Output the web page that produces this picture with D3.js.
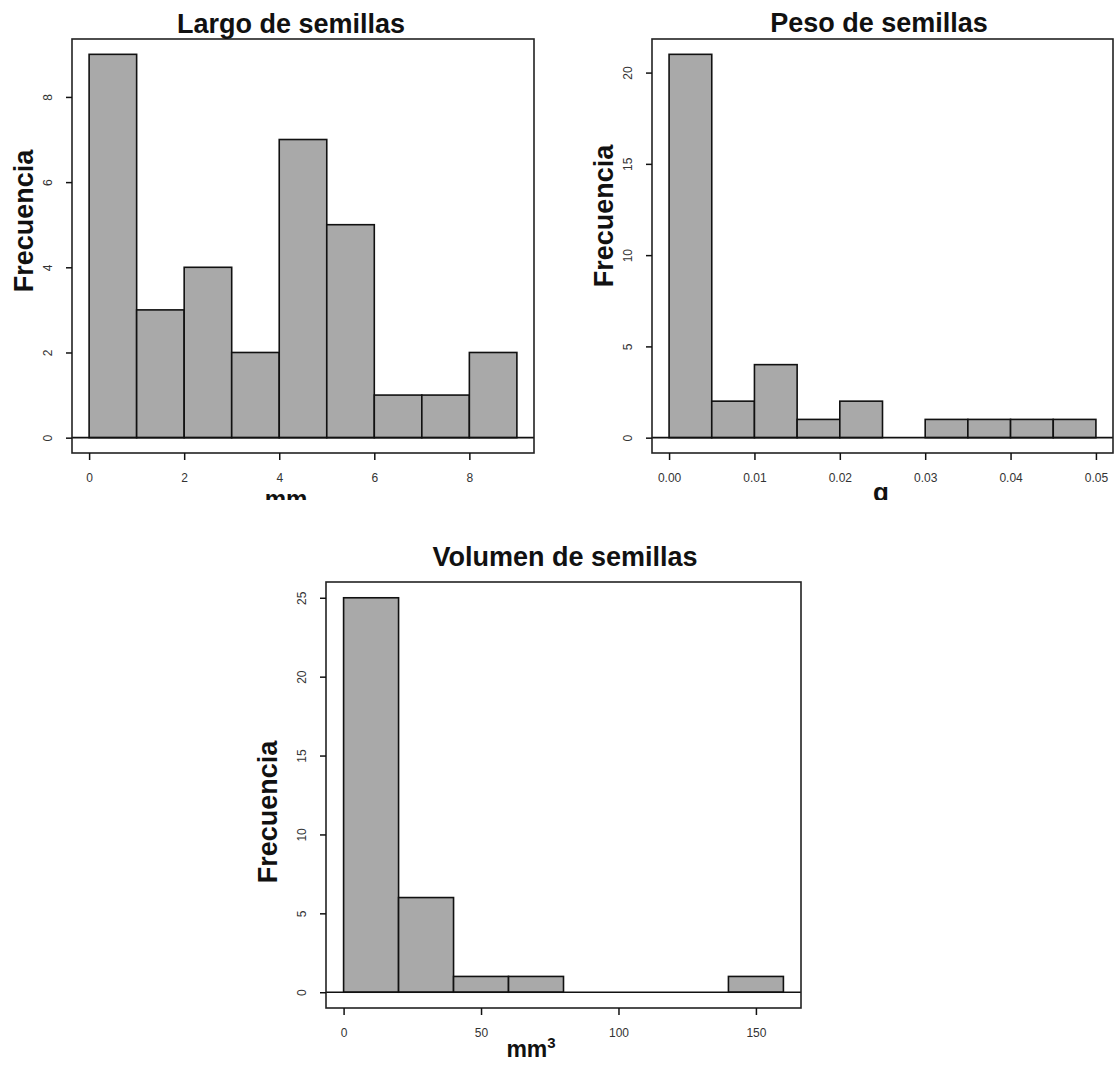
<!DOCTYPE html>
<html>
<head>
<meta charset="utf-8">
<script src="https://cdn.jsdelivr.net/npm/d3@7"></script>
<style>
  body { margin: 0; background: #fff; }
  text { font-family: 'Liberation Sans', Arial, sans-serif; }
</style>
</head>
<body>
<div id="chart"></div>
<script>
// histogram data
const largoBreaks = [0, 1, 2, 3, 4, 5, 6, 7, 8, 9]
const largoCounts = [9, 3, 4, 2, 7, 5, 1, 1, 2]
const largoXTicks = [0, 2, 4, 6, 8]
const largoYTicks = [0, 2, 4, 6, 8]

const pesoBreaks = [0, 0.005, 0.01, 0.015, 0.02, 0.025, 0.03, 0.035, 0.04, 0.045, 0.05]
const pesoCounts = [21, 2, 4, 1, 2, 0, 1, 1, 1, 1]
const pesoXTicks = [0, 0.01, 0.02, 0.03, 0.04, 0.05]
const pesoYTicks = [0, 5, 10, 15, 20]

const volBreaks = [0, 20, 40, 60, 80, 100, 120, 140, 160]
const volCounts = [25, 6, 1, 1, 0, 0, 0, 1]
const volXTicks = [0, 50, 100, 150]
const volYTicks = [0, 5, 10, 15, 20, 25]

const width = 1115
const height = 1070

const svg = d3
  .select('#chart')
  .append('svg')
  .attr('width', width)
  .attr('height', height)

// the top row is cut off at y = 500 in the original
svg
  .append('clipPath')
  .attr('id', 'top-clip')
  .append('rect')
  .attr('x', 0)
  .attr('y', 0)
  .attr('width', width)
  .attr('height', 500)

function drawHist(p) {
  const g = svg.append('g')

  const lo = p.breaks[0]
  const hi = p.breaks[p.breaks.length - 1]
  const pad = (hi - lo) * 0.04
  const maxC = d3.max(p.counts)

  const x = d3
    .scaleLinear()
    .domain([lo - pad, hi + pad])
    .range([p.box.left, p.box.right])

  const y = d3
    .scaleLinear()
    .domain([-maxC * 0.04, maxC * 1.04])
    .range([p.box.bottom, p.box.top])

  const bins = p.counts.map((c, i) => ({ x0: p.breaks[i], x1: p.breaks[i + 1], n: c }))

  g.selectAll('.bar')
    .data(bins.filter(d => d.n > 0))
    .enter()
    .append('rect')
    .attr('class', 'bar')
    .attr('x', d => x(d.x0))
    .attr('width', d => x(d.x1) - x(d.x0))
    .attr('y', d => y(d.n))
    .attr('height', d => y(0) - y(d.n))
    .attr('fill', '#a9a9a9')
    .attr('stroke', '#111')
    .attr('stroke-width', 1.6)

  // line at zero across the plot
  g.append('line')
    .attr('x1', p.box.left)
    .attr('x2', p.box.right)
    .attr('y1', y(0))
    .attr('y2', y(0))
    .attr('stroke', '#111')
    .attr('stroke-width', 1.6)

  g.append('rect')
    .attr('x', p.box.left)
    .attr('y', p.box.top)
    .attr('width', p.box.right - p.box.left)
    .attr('height', p.box.bottom - p.box.top)
    .attr('fill', 'none')
    .attr('stroke', '#222')
    .attr('stroke-width', 1.6)

  const xAxis = d3
    .axisBottom(x)
    .tickValues(p.xTicks)
    .tickFormat(p.xFormat)
    .tickSize(7)
    .tickSizeOuter(0)

  const xg = g
    .append('g')
    .attr('transform', 'translate(0,' + p.box.bottom + ')')
    .call(xAxis)
  xg.select('.domain').remove()
  xg.selectAll('line').attr('stroke', '#111').attr('stroke-width', 1.5)
  xg.selectAll('text')
    .attr('y', 20)
    .attr('fill', '#333')
    .attr('font-size', '12px')
    .attr('font-family', "'Liberation Sans', Arial, sans-serif")

  const yAxis = d3
    .axisLeft(y)
    .tickValues(p.yTicks)
    .tickSize(6)
    .tickSizeOuter(0)

  const yg = g
    .append('g')
    .attr('transform', 'translate(' + p.box.left + ',0)')
    .call(yAxis)
  yg.select('.domain').remove()
  yg.selectAll('line').attr('stroke', '#111').attr('stroke-width', 1.5)
  yg.selectAll('text')
    .attr('x', 0)
    .attr('dy', '0.36em')
    .attr('transform', 'translate(-24,0) rotate(-90)')
    .style('text-anchor', 'middle')
    .attr('fill', '#333')
    .attr('font-size', '12px')
    .attr('font-family', "'Liberation Sans', Arial, sans-serif")

  g.append('text')
    .text(p.title)
    .attr('x', p.titleX)
    .attr('y', p.titleY)
    .style('text-anchor', 'middle')
    .attr('font-size', '27px')
    .attr('font-weight', 'bold')
    .attr('fill', '#111')

  g.append('text')
    .text('Frecuencia')
    .attr('dy', '0.36em')
    .attr('transform', 'translate(' + p.ylabX + ',' + p.ylabY + ') rotate(-90)')
    .style('text-anchor', 'middle')
    .attr('font-size', '27px')
    .attr('font-weight', 'bold')
    .attr('fill', '#111')

  const xl = g
    .append('text')
    .attr('x', p.xlabX)
    .attr('y', p.xlabY)
    .style('text-anchor', 'middle')
    .attr('font-size', p.xlabSize)
    .attr('font-weight', 'bold')
    .attr('fill', '#111')
  xl.append('tspan').text(p.xlab)
  if (p.xlabSup) {
    xl.append('tspan')
      .text(p.xlabSup)
      .attr('font-size', '15px')
      .attr('dy', -9)
  }
  if (p.clip) xl.attr('clip-path', 'url(#top-clip)')
}

drawHist({
  breaks: largoBreaks,
  counts: largoCounts,
  xTicks: largoXTicks,
  yTicks: largoYTicks,
  xFormat: d3.format('d'),
  box: { left: 72, right: 534, top: 39, bottom: 453 },
  title: 'Largo de semillas',
  titleX: 291,
  titleY: 33,
  ylabX: 23,
  ylabY: 221,
  xlab: 'mm',
  xlabSize: '24px',
  xlabX: 286,
  xlabY: 507,
  clip: true
})

drawHist({
  breaks: pesoBreaks,
  counts: pesoCounts,
  xTicks: pesoXTicks,
  yTicks: pesoYTicks,
  xFormat: d3.format('.2f'),
  box: { left: 652, right: 1113, top: 39, bottom: 453 },
  title: 'Peso de semillas',
  titleX: 879,
  titleY: 32,
  ylabX: 603,
  ylabY: 216,
  xlab: 'g',
  xlabSize: '26px',
  xlabX: 881,
  xlabY: 501,
  clip: true
})

drawHist({
  breaks: volBreaks,
  counts: volCounts,
  xTicks: volXTicks,
  yTicks: volYTicks,
  xFormat: d3.format('d'),
  box: { left: 326, right: 801, top: 582, bottom: 1008 },
  title: 'Volumen de semillas',
  titleX: 565,
  titleY: 566,
  ylabX: 267,
  ylabY: 812,
  xlab: 'mm',
  xlabSup: '3',
  xlabSize: '23px',
  xlabX: 531,
  xlabY: 1057
})
</script>
</body>
</html>
